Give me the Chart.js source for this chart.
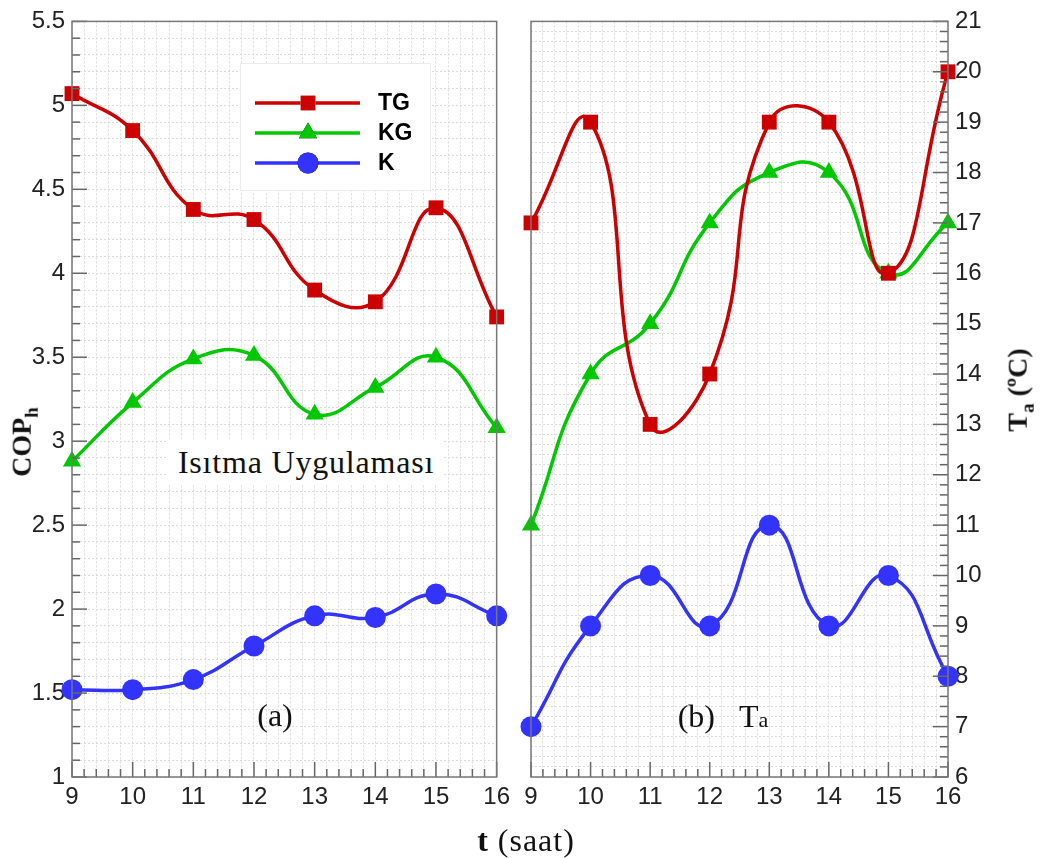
<!DOCTYPE html>
<html>
<head>
<meta charset="utf-8">
<script src="https://cdn.jsdelivr.net/npm/chart.js@4.4.1/dist/chart.umd.min.js"></script>
<style>
  body { margin: 0; background: #fff; }
  #wrap { position: relative; width: 1042px; height: 858px; overflow: hidden; }
  canvas { position: absolute; top: 0; }
  .txt { position: absolute; white-space: nowrap; color: #111; font-family: "Liberation Serif", serif; }
  .rot { transform: translate(-50%, -50%) rotate(-90deg); }
  .ctr { transform: translate(-50%, -50%); }
</style>
</head>
<body>
<div id="wrap">
  <canvas id="leftChart" width="516" height="858" style="left:0;width:516px;height:858px"></canvas>
  <canvas id="rightChart" width="526" height="858" style="left:516px;width:526px;height:858px"></canvas>

  <div class="txt rot" style="left:24px;top:442px;font-size:28px;font-weight:bold">COP<sub style="font-size:19px">h</sub></div>
  <div class="txt rot" style="left:1020px;top:390px;font-size:28px;font-weight:bold">T<sub style="font-size:19px">a</sub> (ºC)</div>
  <div class="txt ctr" style="left:526px;top:840px;font-size:32px;letter-spacing:1px"><b>t</b> (saat)</div>
  <div class="txt ctr" style="left:306px;top:462px;font-size:32px;letter-spacing:0.8px;background:#fff;padding:4px 10px">Isıtma Uygulaması</div>
  <div class="txt ctr" style="left:275px;top:715px;font-size:32px">(a)</div>
  <div class="txt ctr" style="left:723px;top:716px;font-size:32px">(b)&nbsp;&nbsp;&nbsp;T<span style="font-size:22px">a</span></div>
</div>
<script>
// saat (x ekseni)
const hours = [9, 10, 11, 12, 13, 14, 15, 16];
const xTickLabels = [9, 10, 11, 12, 13, 14, 15, 16];

// (a) COP_h
const copTG = [5.07, 4.85, 4.38, 4.32, 3.90, 3.83, 4.39, 3.74];
const copKG = [2.88, 3.23, 3.49, 3.51, 3.16, 3.32, 3.50, 3.08];
const copK  = [1.52, 1.52, 1.58, 1.78, 1.96, 1.95, 2.09, 1.96];
const copTickLabels = [1, 1.5, 2, 2.5, 3, 3.5, 4, 4.5, 5, 5.5];

// (b) Ta
const taTG = [17, 19, 13, 14, 19, 19, 16, 20];
const taKG = [11, 14, 15, 17, 18, 18, 16, 17];
const taK  = [7, 9, 10, 9, 11, 9, 10, 8];
const taTickLabels = [6, 7, 8, 9, 10, 11, 12, 13, 14, 15, 16, 17, 18, 19, 20, 21];

const seriesNames = ['TG', 'KG', 'K'];
const colors = ['#cc0000', '#00c800', '#3333ff'];
const markers = ['rect', 'triangle', 'circle'];
const markerRadius = [10.5, 10.5, 10.5];

function isLabel(list, v) {
    return list.some(t => Math.abs(t - v) < 1e-6);
}

function makeDatasets(arrays, tension) {
    return arrays.map((arr, i) => ({
        label: seriesNames[i],
        data: hours.map((h, j) => ({ x: h, y: arr[j] })),
        borderColor: colors[i],
        backgroundColor: colors[i],
        borderWidth: 3.5,
        tension: tension,
        pointStyle: markers[i],
        pointRadius: markerRadius[i],
        pointHoverRadius: markerRadius[i],
        pointBorderWidth: 0,
        pointBackgroundColor: colors[i],
        clip: false
    }));
}

// cerceve ve iceri bakan tik cizgileri
const frameTicks = {
    id: 'frameTicks',
    afterDatasetsDraw(chart, args, opts) {
        const { ctx, chartArea: a } = chart;
        const xs = chart.scales.x, ys = chart.scales.y;
        ctx.save();
        ctx.strokeStyle = '#666';
        ctx.lineWidth = 1.5;
        // x tikleri (alt, yukari dogru)
        for (let v = xs.min; v <= xs.max + 1e-6; v += opts.xMinor) {
            const px = xs.getPixelForValue(v);
            const len = isLabel(xTickLabels, v) ? 15 : 8;
            ctx.beginPath();
            ctx.moveTo(px, a.bottom);
            ctx.lineTo(px, a.bottom - len);
            ctx.stroke();
        }
        // y tikleri
        const side = opts.ySide === 'left' ? a.left : a.right;
        const dir = opts.ySide === 'left' ? 1 : -1;
        for (let v = ys.min; v <= ys.max + 1e-6; v += opts.yMinor) {
            const py = ys.getPixelForValue(v);
            const len = isLabel(opts.yLabels, v) ? 15 : 8;
            ctx.beginPath();
            ctx.moveTo(side, py);
            ctx.lineTo(side + dir * len, py);
            ctx.stroke();
        }
        ctx.strokeStyle = '#777';
        ctx.strokeRect(a.left, a.top, a.right - a.left, a.bottom - a.top);
        ctx.restore();
    }
};

// grafik ici lejant (sol panel)
const innerLegend = {
    id: 'innerLegend',
    afterDraw(chart, args, opts) {
        if (!opts.show) return;
        const ctx = chart.ctx;
        ctx.save();
        ctx.fillStyle = '#fff';
        ctx.fillRect(240, 63, 190, 127);
        ctx.strokeStyle = '#ececec';
        ctx.lineWidth = 1;
        ctx.strokeRect(240.5, 63.5, 190, 127);
        chart.data.datasets.forEach((ds, i) => {
            const y = 103 + i * 30;
            ctx.strokeStyle = ds.borderColor;
            ctx.lineWidth = 3.5;
            ctx.beginPath();
            ctx.moveTo(255, y);
            ctx.lineTo(360, y);
            ctx.stroke();
            Chart.helpers.drawPoint(ctx, {
                pointStyle: ds.pointStyle,
                radius: ds.pointRadius,
                borderWidth: 0,
                rotation: 0
            }, 308, y);
            ctx.fillStyle = ds.backgroundColor;
            ctx.fill();
            ctx.fillStyle = '#000';
            ctx.font = 'bold 23px "Liberation Sans", Arial, sans-serif';
            ctx.textBaseline = 'middle';
            ctx.fillText(ds.label, 378, y + 1);
        });
        ctx.restore();
    }
};

const tickFont = { family: '"Liberation Sans", Arial, sans-serif', size: 24 };

function makeChart(id, arrays, cfg) {
    return new Chart(document.getElementById(id), {
        type: 'line',
        data: { datasets: makeDatasets(arrays, cfg.tension) },
        plugins: [frameTicks, innerLegend],
        options: {
            responsive: false,
            animation: false,
            events: [],
            layout: { padding: cfg.padding },
            plugins: {
                legend: { display: false },
                tooltip: { enabled: false },
                frameTicks: { xMinor: 0.2, yMinor: cfg.yMinor, ySide: cfg.ySide, yLabels: cfg.yLabels },
                innerLegend: { show: cfg.legend }
            },
            scales: {
                x: {
                    type: 'linear',
                    min: 9,
                    max: 16,
                    afterFit: s => { s.height = 40; },
                    border: { display: false, dash: [2, 2] },
                    grid: { color: '#dcdcdc', lineWidth: 1, drawTicks: false },
                    ticks: {
                        stepSize: 0.2,
                        autoSkip: false,
                        maxRotation: 0,
                        padding: 6,
                        color: '#222',
                        font: tickFont,
                        callback: v => isLabel(xTickLabels, v) ? String(Math.round(v)) : ''
                    }
                },
                y: {
                    type: 'linear',
                    position: cfg.ySide,
                    min: cfg.yMin,
                    max: cfg.yMax,
                    afterFit: s => { s.width = cfg.yWidth; },
                    border: { display: false, dash: [2, 2] },
                    grid: { color: '#dcdcdc', lineWidth: 1, drawTicks: false },
                    ticks: {
                        stepSize: cfg.yMinor,
                        autoSkip: false,
                        padding: 7,
                        color: '#222',
                        font: tickFont,
                        callback: v => {
                            const t = cfg.yLabels.find(l => Math.abs(l - v) < 1e-6);
                            return t === undefined ? '' : String(t);
                        }
                    }
                }
            }
        }
    });
}

makeChart('leftChart', [copTG, copKG, copK], {
    padding: { top: 17, left: 0, right: 16, bottom: 41 },
    yMin: 1, yMax: 5.5, yMinor: 0.1, ySide: 'left', yWidth: 72,
    yLabels: copTickLabels, legend: true, tension: 0.45
});

makeChart('rightChart', [taTG, taKG, taK], {
    padding: { top: 17, left: 15, right: 0, bottom: 41 },
    yMin: 6, yMax: 21, yMinor: 0.2, ySide: 'right', yWidth: 94,
    yLabels: taTickLabels, legend: false, tension: 0.5
});
</script>
</body>
</html>
